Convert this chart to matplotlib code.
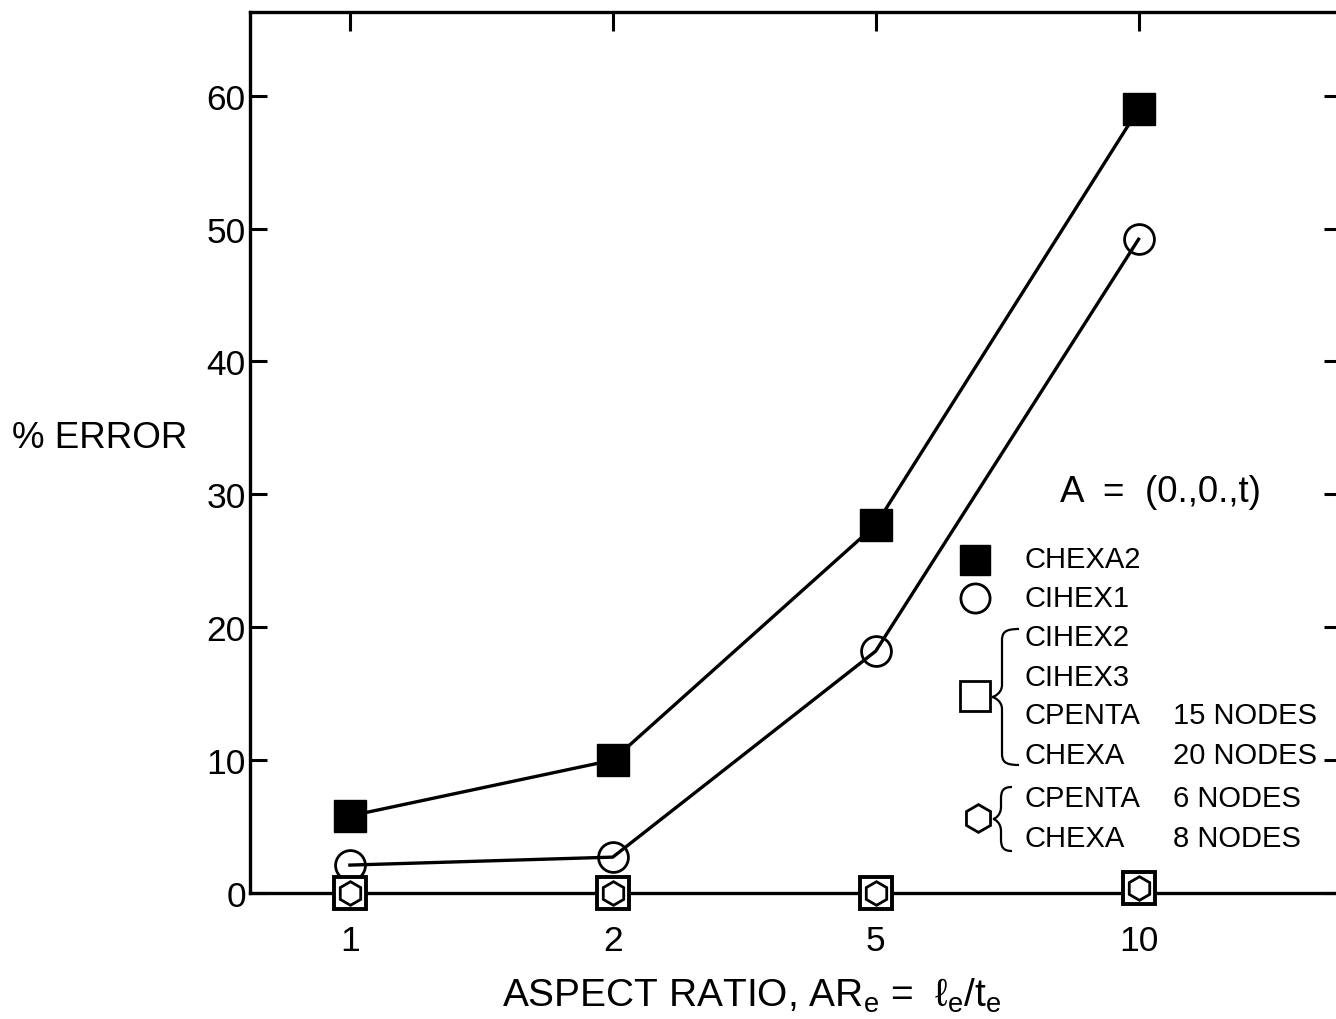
import numpy as np
import matplotlib
matplotlib.use("Agg")
import matplotlib.pyplot as plt
from matplotlib.lines import Line2D
from matplotlib.path import Path
from matplotlib.patches import PathPatch

plt.rcParams['font.family'] = ['Liberation Sans', 'DejaVu Sans']
plt.rcParams['mathtext.fontset'] = 'custom'
plt.rcParams['mathtext.rm'] = 'Liberation Sans'
plt.rcParams['mathtext.it'] = 'Liberation Sans'

# ---- data ----
aspect_labels = ['1', '2', '5', '10']
chexa2 = [5.8, 10.0, 27.7, 59.0]
cihex1 = [2.1, 2.7, 18.2, 49.2]
cihex2_group = [0.0, 0.0, 0.0, 0.4]
cpenta6_group = [0.0, 0.0, 0.0, 0.4]
y_ticks = [0, 10, 20, 30, 40, 50, 60]

W, H = 1336, 1020
fig = plt.figure(figsize=(W / 100, H / 100), dpi=100)

def fx(px):
    return px / W

def fy(py):
    return 1 - py / H

ax_left, ax_right = 250, 1341
ax_top, ax_bot = 13, 894
ax = fig.add_axes([fx(ax_left), fy(ax_bot), fx(ax_right - ax_left), (ax_bot - ax_top) / H])

xpos = np.arange(len(aspect_labels))
lw = 2.4

ax.plot(xpos, chexa2, color='black', lw=lw, marker='s', ms=23,
        mfc='black', mec='black', zorder=3, clip_on=False)
ax.plot(xpos, cihex1, color='black', lw=lw, marker='o', ms=21.5,
        mfc='none', mec='black', mew=2.0, zorder=3, clip_on=False)
ax.plot(xpos, cihex2_group, ls='none', marker='s', ms=22.5,
        mfc='white', mec='black', mew=2.8, zorder=4, clip_on=False)
ax.plot(xpos, cpenta6_group, ls='none', marker='h', ms=17,
        mfc='none', mec='black', mew=2.0, zorder=5, clip_on=False)

ax.set_xlim(-0.38, 3.77)
ax.set_ylim(0, 66.3)
ax.set_xticks(xpos)
ax.set_xticklabels(aspect_labels)
ax.set_yticks(y_ticks)

for s in ax.spines.values():
    s.set_linewidth(2.4)

ax.tick_params(axis='x', bottom=False, top=True, labelbottom=True,
               direction='in', length=13.5, width=2.2, pad=22, labelsize=25.5)
ax.tick_params(axis='y', left=True, right=True, direction='in',
               length=12.5, width=2.2, pad=3, labelsize=25.5)

# axis labels
fig.text(fx(12), fy(438), '% ERROR', fontsize=26.5, ha='left', va='center')
fig.text(fx(752), fy(996),
         r'ASPECT RATIO, AR$_{\mathregular{e}}$ =  ℓ$_{\mathregular{e}}$/t$_{\mathregular{e}}$',
         fontsize=28, ha='center', va='center')

# legend block
fig.text(fx(1060), fy(492), 'A  =  (0.,0.,t)', fontsize=26.5, ha='left', va='center')

def mk(x, y, **kw):
    fig.add_artist(Line2D([fx(x)], [fy(y)], transform=fig.transFigure, ls='none', **kw))

mk(975, 561, marker='s', ms=22, mfc='black', mec='black')
mk(975, 599, marker='o', ms=21, mfc='none', mec='black', mew=2.0)
mk(975, 697, marker='s', ms=21.5, mfc='none', mec='black', mew=2.0)
mk(978, 819, marker='h', ms=20, mfc='none', mec='black', mew=2.0)

tx = 1025
tx2 = 1173
leg_fs = 21
rows = [
    ('CHEXA2', '', 560),
    ('CIHEX1', '', 599),
    ('CIHEX2', '', 638),
    ('CIHEX3', '', 678),
    ('CPENTA', '15 NODES', 716),
    ('CHEXA', '20 NODES', 756),
    ('CPENTA', '6 NODES', 799),
    ('CHEXA', '8 NODES', 839),
]
for a, b, y in rows:
    fig.text(fx(tx), fy(y), a, fontsize=leg_fs, ha='left', va='center')
    if b:
        fig.text(fx(tx2), fy(y), b, fontsize=leg_fs, ha='left', va='center')

def brace(xr, xm, xt, yt, yb):
    ymid = (yt + yb) / 2
    d = 12
    verts = [
        (xr, yt),
        (xm + 2, yt), (xm, yt + 4), (xm, yt + d),
        (xm, ymid - d),
        (xm, ymid - 4), (xt + 2, ymid), (xt, ymid),
        (xt + 2, ymid), (xm, ymid + 4), (xm, ymid + d),
        (xm, yb - d),
        (xm, yb - 4), (xm + 2, yb), (xr, yb),
    ]
    codes = [Path.MOVETO,
             Path.CURVE4, Path.CURVE4, Path.CURVE4,
             Path.LINETO,
             Path.CURVE4, Path.CURVE4, Path.CURVE4,
             Path.CURVE4, Path.CURVE4, Path.CURVE4,
             Path.LINETO,
             Path.CURVE4, Path.CURVE4, Path.CURVE4]
    v = [(fx(x), fy(y)) for x, y in verts]
    fig.add_artist(PathPatch(Path(v, codes), transform=fig.transFigure,
                             fill=False, lw=1.6, ec='black'))

brace(1019, 1002, 992, 630, 766)
brace(1012, 1001, 993, 788, 852)

fig.savefig('out.png', dpi=100)
